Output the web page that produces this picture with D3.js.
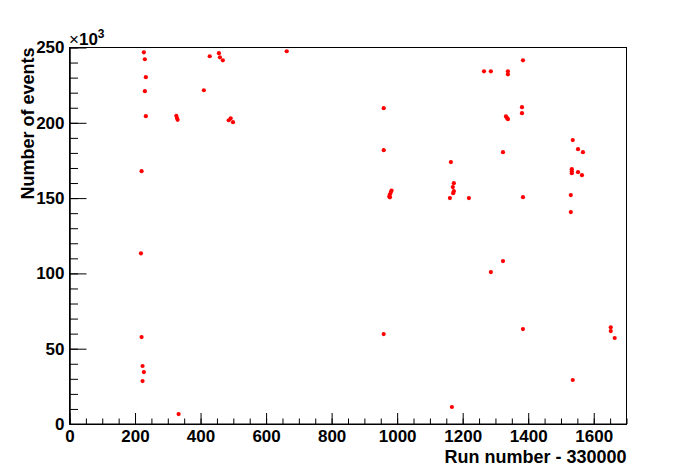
<!DOCTYPE html>
<html>
<head>
<meta charset="utf-8">
<script src="https://cdn.jsdelivr.net/npm/d3@7"></script>
<style>
  body { margin: 0; background: #fff; }
  svg text { font-family: 'Liberation Sans', Arial, sans-serif; font-weight: bold; fill: #000; }
</style>
</head>
<body>
<div id="app"></div>
<script>
// data: run number minus 330000, events in thousands
const runNumbers = [
  227, 230, 233, 230, 233, 220, 218, 220, 223, 227, 223,
  333, 326, 328, 330,
  410, 428, 456, 459, 468, 486, 492, 499,
  663,
  959, 959, 959, 976, 978, 981, 983, 978,
  1164, 1173, 1170, 1173, 1171, 1161, 1167, 1219,
  1265, 1286, 1286, 1323, 1323, 1332, 1335, 1338, 1338, 1338,
  1381, 1381, 1384, 1384, 1384,
  1536, 1552, 1567, 1533, 1533, 1533, 1552, 1564, 1530, 1530, 1536,
  1652, 1652, 1664
]
const eventsK = [
  246.8, 242.2, 230.3, 221.0, 204.4, 167.9, 113.3, 57.7, 38.5, 34.5, 28.5,
  6.6, 204.6, 203.2, 202.0,
  221.6, 244.2, 246.2, 243.5, 241.5, 201.7, 203.0, 200.4,
  247.5,
  209.7, 181.8, 59.7, 151.0, 152.5, 154.0, 155.0, 150.5,
  173.9, 159.9, 157.3, 154.6, 153.3, 150.0, 11.3, 150.0,
  234.2, 234.2, 100.9, 180.5, 108.2, 204.2, 203.3, 202.4, 234.2, 232.2,
  210.4, 206.4, 241.5, 150.6, 63.0,
  188.5, 182.5, 180.5, 169.2, 167.9, 166.5, 167.2, 165.2, 152.0, 140.7, 29.2,
  64.2, 61.7, 57.1
]

const xTicks = [0, 200, 400, 600, 800, 1000, 1200, 1400, 1600]
const yTicks = [0, 50, 100, 150, 200, 250]
const xTitle = 'Run number - 330000'
const yTitle = 'Number of events'

const w = 696
const h = 472
const mLeft = 69.5, mRight = 626.5, mTop = 47.5, mBottom = 424

const svg = d3.select('#app')
  .append('svg')
  .attr('width', w)
  .attr('height', h)

const xScale = d3.scaleLinear().domain([0, 1700]).range([mLeft, mRight])
const yScale = d3.scaleLinear().domain([0, 250]).range([mBottom, mTop])

// frame
svg.append('rect')
  .attr('x', mLeft)
  .attr('y', mTop)
  .attr('width', mRight - mLeft)
  .attr('height', mBottom - mTop)
  .attr('fill', 'none')
  .attr('stroke', '#000')
  .attr('stroke-width', 1)

// minor ticks
svg.append('g')
  .attr('transform', `translate(0, ${mBottom})`)
  .call(d3.axisBottom(xScale).tickValues(d3.range(0, 1701, 50)).tickSize(-5.5).tickSizeOuter(0).tickFormat(''))
svg.append('g')
  .attr('transform', `translate(${mLeft}, 0)`)
  .call(d3.axisLeft(yScale).tickValues(d3.range(0, 251, 10)).tickSize(-8.5).tickSizeOuter(0).tickFormat(''))

// major ticks + labels
svg.append('g')
  .attr('id', 'x-axis')
  .attr('transform', `translate(0, ${mBottom})`)
  .call(d3.axisBottom(xScale).tickValues(xTicks).tickSize(-11).tickSizeOuter(0).tickPadding(6).tickFormat(d3.format('d')))
svg.append('g')
  .attr('id', 'y-axis')
  .attr('transform', `translate(${mLeft}, 0)`)
  .call(d3.axisLeft(yScale).tickValues(yTicks).tickSize(-17).tickSizeOuter(0).tickPadding(5).tickFormat(d3.format('d')))

svg.selectAll('.domain').attr('stroke', '#000')
svg.selectAll('.tick line').attr('stroke', '#000')
svg.selectAll('.tick text')
  .style('font-size', '17px')
  .style('font-family', "'Liberation Sans', Arial, sans-serif")
  .style('font-weight', 'bold')

// titles
svg.append('text')
  .attr('x', mRight)
  .attr('y', 462.5)
  .attr('text-anchor', 'end')
  .style('font-size', '18px')
  .text(xTitle)

svg.append('text')
  .attr('transform', `translate(33.5, ${mTop}) rotate(-90)`)
  .attr('text-anchor', 'end')
  .style('font-size', '18px')
  .text(yTitle)

// exponent label
const expo = svg.append('text')
  .attr('x', 69)
  .attr('y', 44.5)
  .style('font-size', '17px')
expo.append('tspan').style('font-weight', 'normal').text('\u00d7')
expo.append('tspan').text('10')
expo.append('tspan').attr('dy', -7).style('font-size', '12px').text('3')

// points
svg.append('g')
  .selectAll('circle')
  .data(runNumbers.map((r, i) => ({ run: r, ev: eventsK[i] })))
  .enter()
  .append('circle')
  .attr('cx', d => xScale(d.run))
  .attr('cy', d => yScale(d.ev))
  .attr('r', 2.1)
  .attr('fill', '#ff0000')
</script>
</body>
</html>
